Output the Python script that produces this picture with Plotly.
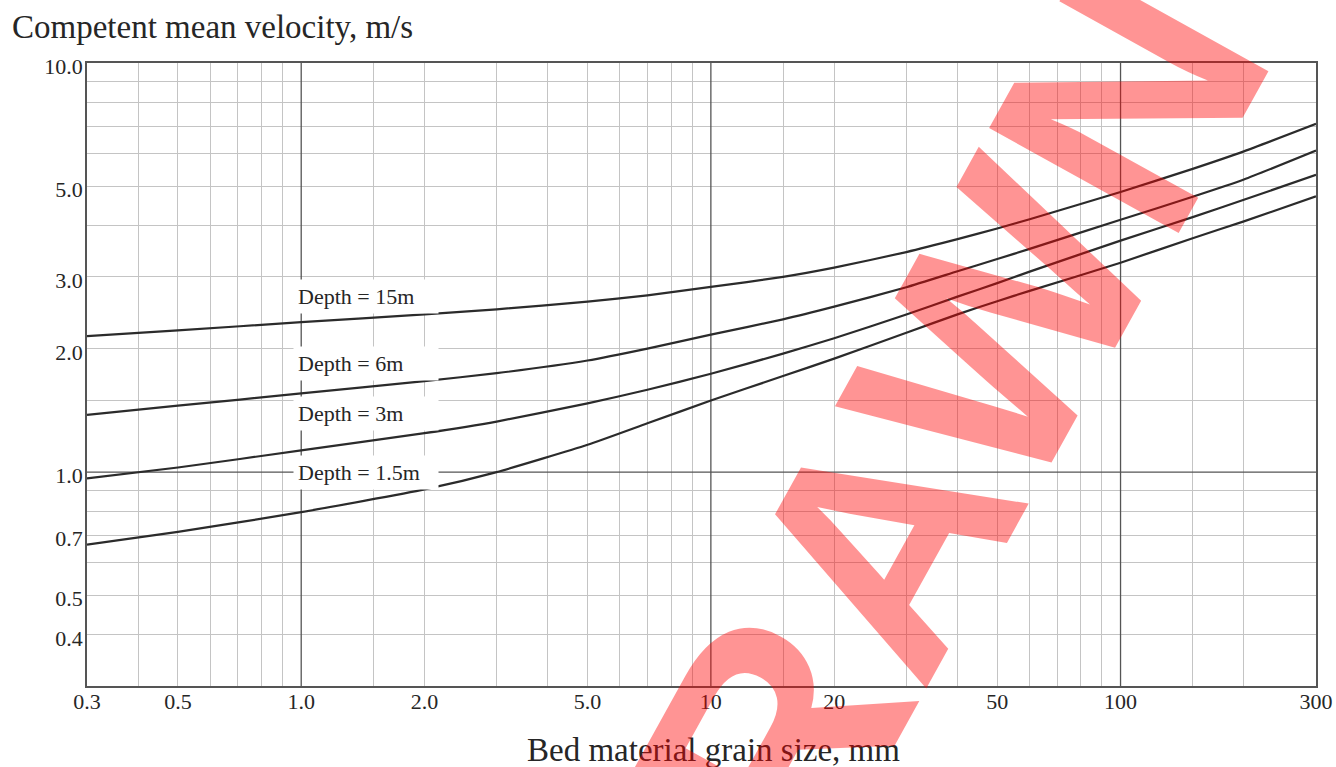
import plotly.graph_objects as go
import math

# ---- data ----
grain_size_mm = [0.3, 0.5, 1, 2, 3, 5, 7, 10, 15, 20, 30, 40, 50, 60, 100, 150, 200, 300]
v_depth_15m = [2.15, 2.22, 2.325, 2.43, 2.50, 2.61, 2.705, 2.835, 3.00, 3.16, 3.45, 3.71, 3.94, 4.15, 4.84, 5.51, 6.08, 7.10]
v_depth_6m = [1.38, 1.453, 1.557, 1.669, 1.745, 1.874, 2.004, 2.168, 2.362, 2.537, 2.83, 3.096, 3.317, 3.513, 4.138, 4.71, 5.19, 6.11]
v_depth_3m = [0.965, 1.026, 1.130, 1.245, 1.329, 1.472, 1.590, 1.739, 1.948, 2.124, 2.428, 2.685, 2.897, 3.09, 3.68, 4.20, 4.63, 5.33]
v_depth_1_5m = [0.665, 0.714, 0.798, 0.907, 1.000, 1.166, 1.316, 1.496, 1.717, 1.894, 2.191, 2.43, 2.617, 2.773, 3.25, 3.73, 4.10, 4.72]

series_names = ["Depth = 15m", "Depth = 6m", "Depth = 3m", "Depth = 1.5m"]
series_values = [v_depth_15m, v_depth_6m, v_depth_3m, v_depth_1_5m]
label_y_values = [2.69, 1.84, 1.39, 1.0]

x_tickvals = [0.3, 0.5, 1, 2, 5, 10, 20, 50, 100, 300]
x_ticktext = ["0.3", "0.5", "1.0", "2.0", "5.0", "10", "20", "50", "100", "300"]
y_tickvals = [0.4, 0.5, 0.7, 1, 2, 3, 5, 10]
y_ticktext = ["0.4", "0.5", "0.7", "1.0", "2.0", "3.0", "5.0", "10.0"]

x_minor_grid = [0.4, 0.5, 0.6, 0.7, 0.8, 0.9, 1.5, 2, 3, 4, 5, 6, 7, 8, 9,
                15, 20, 30, 40, 50, 60, 70, 80, 90, 150, 200]
y_minor_grid = [0.4, 0.5, 0.6, 0.7, 0.8, 0.9, 1.5, 2, 3, 4, 5, 6, 7, 8, 9]
x_major_grid = [1, 10, 100]
y_major_grid = [1]

X_RANGE = [0.3, 300]
Y_RANGE = [0.3, 10]

SERIF = "Liberation Serif, Times New Roman, serif"
TEXT = "#262626"
MINOR = "#c4c4c4"
MAJOR = "#555555"

# plot-area geometry in page pixels
L, R, T, B = 87, 1316, 63, 686
PW, PH = R - L, B - T


def px_to_paper(px, py):
    return (px - L) / PW, (B - py) / PH


fig = go.Figure()

# darker major grid lines
for xv in x_major_grid:
    fig.add_trace(go.Scatter(x=[xv, xv], y=Y_RANGE, mode="lines",
                             line=dict(color=MAJOR, width=1.3),
                             hoverinfo="skip", showlegend=False))
for yv in y_major_grid:
    fig.add_trace(go.Scatter(x=X_RANGE, y=[yv, yv], mode="lines",
                             line=dict(color=MAJOR, width=1.3),
                             hoverinfo="skip", showlegend=False))

# curves
for name, vals in zip(series_names, series_values):
    fig.add_trace(go.Scatter(x=grain_size_mm, y=vals, mode="lines", name=name,
                             line=dict(color="#2b2b2b", width=2.2, shape="spline", smoothing=0.5),
                             showlegend=False))

# curve labels
for name, yv in zip(series_names, label_y_values):
    fig.add_annotation(x=0, y=math.log10(yv), xref="x", yref="y",
                       text=name, showarrow=False, xanchor="left", yanchor="middle",
                       xshift=-8, align="left", width=136, borderpad=4,
                       bgcolor="white",
                       font=dict(family=SERIF, size=22, color=TEXT))

# axis titles
tx, ty = px_to_paper(10, 27)
fig.add_annotation(x=tx, y=ty, xref="paper", yref="paper",
                   text="Competent mean velocity, m/s", showarrow=False,
                   xanchor="left", yanchor="middle",
                   font=dict(family=SERIF, size=33, color=TEXT))
ax_, ay_ = px_to_paper(713, 750)
fig.add_annotation(x=ax_, y=ay_, xref="paper", yref="paper",
                   text="Bed material grain size, mm", showarrow=False,
                   xanchor="center", yanchor="middle",
                   font=dict(family=SERIF, size=33, color=TEXT))

# watermark
wx, wy = px_to_paper(895, 520)
fig.add_annotation(x=wx, y=wy, xref="paper", yref="paper",
                   text="<b>DRAWN</b>", showarrow=False, textangle=-61,
                   xanchor="center", yanchor="middle",
                   font=dict(family="Liberation Sans, Arial, sans-serif", size=315,
                             color="rgba(255,0,0,0.42)"))

axis_common = dict(
    type="log", showgrid=False, zeroline=False,
    showline=True, mirror=True, linecolor=MAJOR, linewidth=1.5,
    ticks="", tickfont=dict(family=SERIF, size=22, color=TEXT),
)

fig.update_xaxes(**axis_common, range=[math.log10(v) for v in X_RANGE],
                 tickmode="array", tickvals=x_tickvals, ticktext=x_ticktext,
                 ticklabelstandoff=-5,
                 minor=dict(tickmode="array", tickvals=x_minor_grid, showgrid=True,
                            gridcolor=MINOR, gridwidth=1, ticks=""))
fig.update_yaxes(**axis_common, range=[math.log10(v) for v in Y_RANGE],
                 tickmode="array", tickvals=y_tickvals, ticktext=y_ticktext,
                 ticklabelshift=3, ticklabelstandoff=-2,
                 minor=dict(tickmode="array", tickvals=y_minor_grid, showgrid=True,
                            gridcolor=MINOR, gridwidth=1, ticks=""))

fig.update_layout(
    width=1336, height=767,
    margin=dict(l=L, r=1336 - R, t=T, b=767 - B, autoexpand=False),
    paper_bgcolor="white", plot_bgcolor="white",
    showlegend=False,
)

fig.write_html("out.html", config={"displayModeBar": False},
               post_script="document.body.style.margin='0px';")
